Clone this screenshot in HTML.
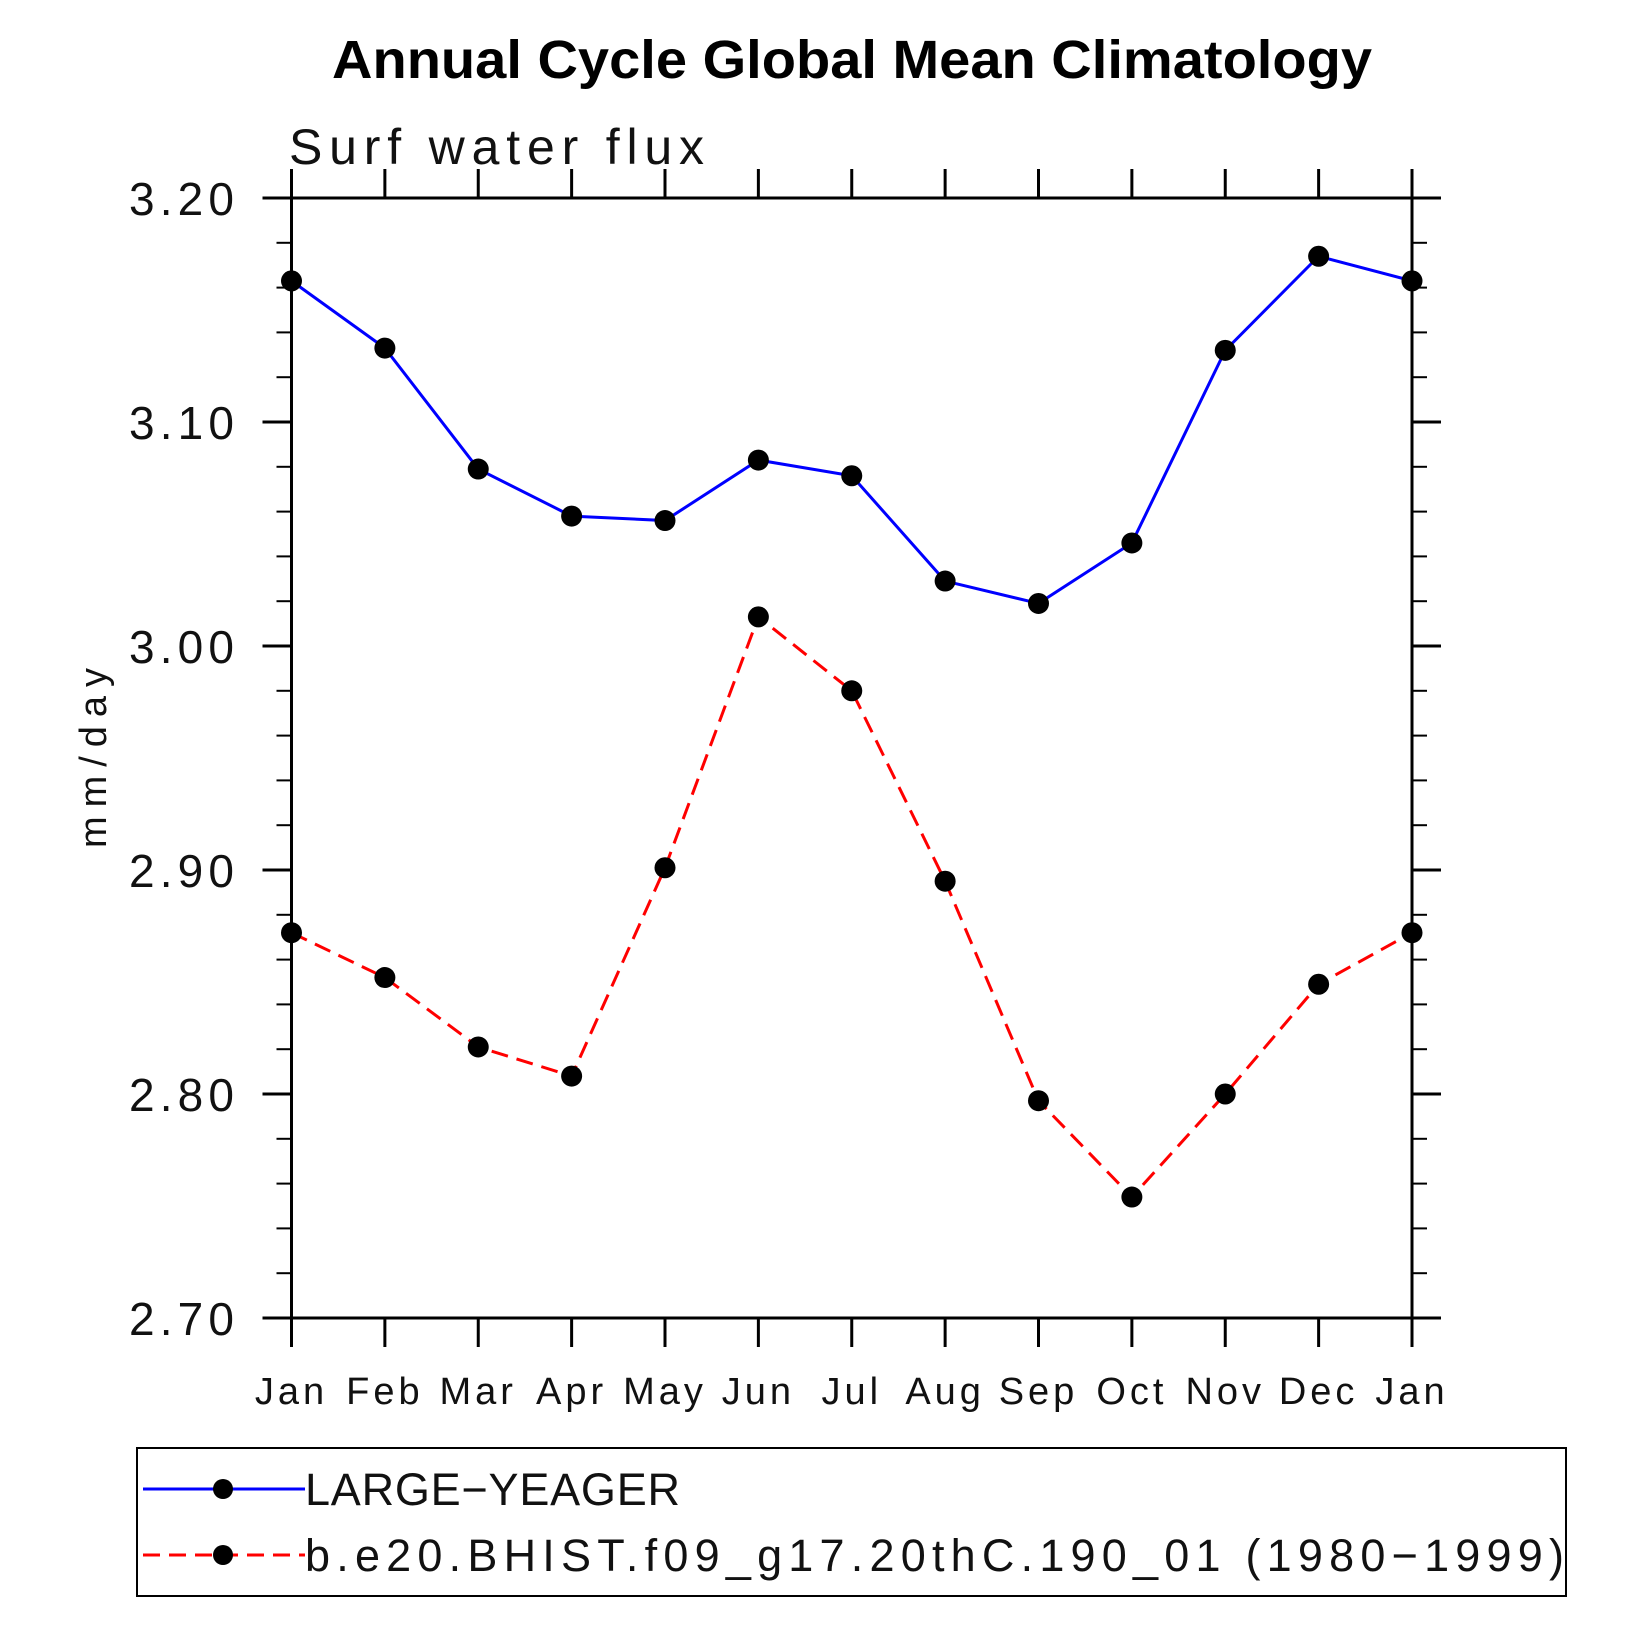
<!DOCTYPE html>
<html><head><meta charset="utf-8"><style>
html,body{margin:0;padding:0;background:#fff;}
svg{display:block;}
text{font-family:"Liberation Sans",sans-serif;}
</style></head><body>
<svg id="chart" width="1635" height="1635" viewBox="0 0 1635 1635" xmlns="http://www.w3.org/2000/svg">
<text x="332" y="78" textLength="1040" lengthAdjust="spacingAndGlyphs" font-size="54" font-weight="bold">Annual Cycle Global Mean Climatology</text>
<text x="289" y="164" textLength="415" lengthAdjust="spacing" font-size="50" fill="#111">Surf water flux</text>
<text transform="translate(106,758) rotate(-90)" text-anchor="middle" textLength="180" lengthAdjust="spacing" font-size="38" fill="#111">mm/day</text>
<g id="axes"></g>
<g id="series"></g>
<rect x="137" y="1448" width="1429" height="148" fill="none" stroke="#000" stroke-width="2"/>
<g>
<line x1="143" y1="1489" x2="305" y2="1489" stroke="#0000ff" stroke-width="3"/>
<circle cx="223" cy="1489" r="10" fill="#000"/>
<text x="305" y="1505" textLength="375" lengthAdjust="spacing" font-size="45" fill="#111">LARGE−YEAGER</text>
</g>
<g>
<line x1="143" y1="1555" x2="305" y2="1555" stroke="#ff0000" stroke-width="3" stroke-dasharray="17,9"/>
<circle cx="223" cy="1555" r="10" fill="#000"/>
<text x="305" y="1571" textLength="1259" lengthAdjust="spacing" font-size="45" fill="#111">b.e20.BHIST.f09_g17.20thC.190_01 (1980−1999)</text>
</g>
</svg>
<script>
const months = ["Jan","Feb","Mar","Apr","May","Jun","Jul","Aug","Sep","Oct","Nov","Dec","Jan"];
const largeYeager = [3.163,3.133,3.079,3.058,3.056,3.083,3.076,3.029,3.019,3.046,3.132,3.174,3.163];
const bhist = [2.872,2.852,2.821,2.808,2.901,3.013,2.980,2.895,2.797,2.754,2.800,2.849,2.872];
const yTicks = ["2.70","2.80","2.90","3.00","3.10","3.20"];
const yMin = 2.70, yMax = 3.20;

const L=291.5, R=1412, T=198, B=1318;
const NS="http://www.w3.org/2000/svg";
function x(i){return L+(R-L)*i/(months.length-1);}
function y(v){return B-(B-T)*(v-yMin)/(yMax-yMin);}
function mk(tag,attrs,parent){const e=document.createElementNS(NS,tag);for(const k in attrs)e.setAttribute(k,attrs[k]);parent.appendChild(e);return e;}
const axes=document.getElementById('axes');
const series=document.getElementById('series');

const frame=mk('rect',{x:L,y:T,width:R-L,height:B-T,fill:'none',stroke:'#000','stroke-width':3},axes);



months.forEach((m,i)=>{
  const xx=x(i);
  mk('line',{x1:xx,y1:B,x2:xx,y2:B+29,stroke:'#000','stroke-width':3},axes);
  mk('line',{x1:xx,y1:T,x2:xx,y2:T-29,stroke:'#000','stroke-width':3},axes);
  const t=mk('text',{x:xx,y:1404,'text-anchor':'middle','font-size':38,'letter-spacing':4,fill:'#111'},axes);
  t.textContent=m;
  
  
});
for(let k=0;k<=25;k++){
  const v=yMin+k*0.02, yy=y(v), major=(k%5===0), len=major?29:15;
  mk('line',{x1:L,y1:yy,x2:L-len,y2:yy,stroke:'#000','stroke-width':major?3:2},axes);
  mk('line',{x1:R,y1:yy,x2:R+len,y2:yy,stroke:'#000','stroke-width':major?3:2},axes);
}
yTicks.forEach(s=>{
  const t=mk('text',{x:129,y:y(parseFloat(s))+17,textLength:105,lengthAdjust:'spacing','font-size':46,fill:'#111'},axes);
  t.textContent=s;
  
  
});

function drawSeries(vals,color,dash,name){
  const pts=vals.map((v,i)=>x(i)+','+y(v)).join(' ');
  const pl=mk('polyline',{points:pts,fill:'none',stroke:color,'stroke-width':3},series);
  if(dash)pl.setAttribute('stroke-dasharray',dash);
  
  
  vals.forEach((v,i)=>{
    const c=mk('circle',{cx:x(i),cy:y(v),r:10.5,fill:'#000'},series);
    
    
  });
}
drawSeries(largeYeager,'#0000ff',null,'large-yeager');
drawSeries(bhist,'#ff0000','17,9','bhist');
</script>
</body></html>
